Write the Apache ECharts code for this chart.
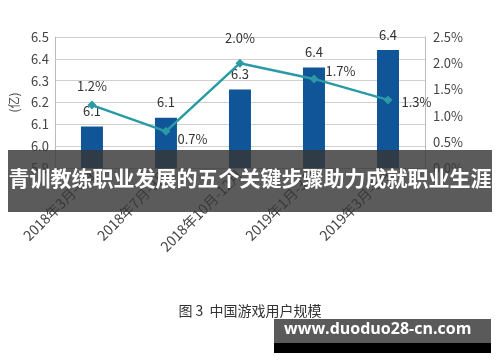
<!DOCTYPE html>
<html><head><meta charset="utf-8">
<script src="https://cdn.jsdelivr.net/npm/echarts@6/dist/echarts.min.js"></script>
<style>html,body{margin:0;padding:0;background:#fff}#c{width:500px;height:362px}</style>
</head><body><div id="c"></div>
<script>
const categories = ['2018年3月-6月','2018年7月-9月','2018年10月-12月','2019年1月-3月','2019年3月-6月'];
const users = [6.09, 6.13, 6.26, 6.36, 6.44];
const growth = [1.2, 0.7, 2.0, 1.7, 1.3];
const leftTicks = {min: 5.9, max: 6.5, interval: 0.1};
const rightTicks = {min: 0, max: 2.5, interval: 0.5};
const title = '青训教练职业发展的五个关键步骤助力成就职业生涯';
const caption = '图 3  中国游戏用户规模';
const site = 'www.duoduo28-cn.com';

const font = '"Noto Sans CJK SC", "DejaVu Sans", sans-serif';
const growthLabelPos = [
  {position: 'top', distance: 8},
  {position: 'right', offset: [2, 8]},
  {position: 'top', distance: 14},
  {position: 'right', offset: [2, -8]},
  {position: 'right', offset: [4, 2]}
];
const chart = echarts.init(document.getElementById('c'));
chart.setOption({
  animation: false,
  backgroundColor: '#fff',
  grid: {left: 51, right: 75, top: 37, bottom: 194, containLabel: false},
  xAxis: {
    type: 'category', data: categories,
    axisLine: {lineStyle: {color: '#bbb'}},
    axisTick: {show: true, lineStyle: {color: '#bbb'}, alignWithLabel: false},
    axisLabel: {rotate: 45, color: '#444', fontSize: 14, fontFamily: font, interval: 0, margin: 4}
  },
  yAxis: [{
    type: 'value', min: leftTicks.min, max: leftTicks.max, interval: leftTicks.interval,
    name: '(亿)', nameLocation: 'middle', nameGap: 32, nameRotate: 90,
    nameTextStyle: {color: '#444', fontSize: 12, fontFamily: font},
    axisLine: {show: true, lineStyle: {color: '#bbb'}},
    axisLabel: {color: '#444', fontSize: 13, fontFamily: font, formatter: v => v.toFixed(1), margin: 6},
    splitLine: {lineStyle: {color: '#d0d0d0'}}
  }, {
    type: 'value', min: rightTicks.min, max: rightTicks.max, interval: rightTicks.interval,
    axisLine: {show: true, lineStyle: {color: '#bbb'}},
    axisLabel: {color: '#444', fontSize: 13, fontFamily: font, formatter: v => v.toFixed(1) + '%', margin: 8},
    splitLine: {show: false}
  }],
  series: [{
    type: 'bar', data: users, barWidth: 22, yAxisIndex: 0,
    itemStyle: {color: '#0f5597'},
    label: {show: true, position: 'top', distance: 9, color: '#333', fontSize: 13, fontFamily: font, formatter: p => p.value.toFixed(1)}
  }, {
    type: 'line', yAxisIndex: 1,
    data: growth.map((v, i) => ({value: v, label: growthLabelPos[i]})),
    symbol: 'diamond', symbolSize: 9,
    lineStyle: {color: '#2a9aa6', width: 2.5},
    itemStyle: {color: '#2a9aa6'},
    label: {show: true, color: '#333', fontSize: 13, fontFamily: font, formatter: p => p.value.toFixed(1) + '%'}
  }],
  graphic: [
    {type: 'rect', left: 8, top: 150, shape: {width: 484, height: 62}, style: {fill: 'rgba(55,55,55,0.82)'}, z: 100},
    {type: 'text', left: 'center', top: 168, style: {text: title, fill: '#fff', font: 'bold 21px "Noto Sans CJK SC", sans-serif'}, z: 101},
    {type: 'text', left: 'center', top: 304, style: {text: caption, fill: '#333', font: '14px "Noto Sans CJK SC", sans-serif'}, z: 101},
    {type: 'rect', left: 274, top: 319, shape: {width: 217, height: 24}, style: {fill: '#5a5a5a'}, z: 100},
    {type: 'rect', left: 274, top: 343, shape: {width: 217, height: 10}, style: {fill: '#000'}, z: 100},
    {type: 'text', left: 284, top: 321, style: {text: site, fill: '#fff', font: 'bold 16px "Open Sans", "DejaVu Sans", sans-serif'}, z: 101}
  ]
});
</script></body></html>
